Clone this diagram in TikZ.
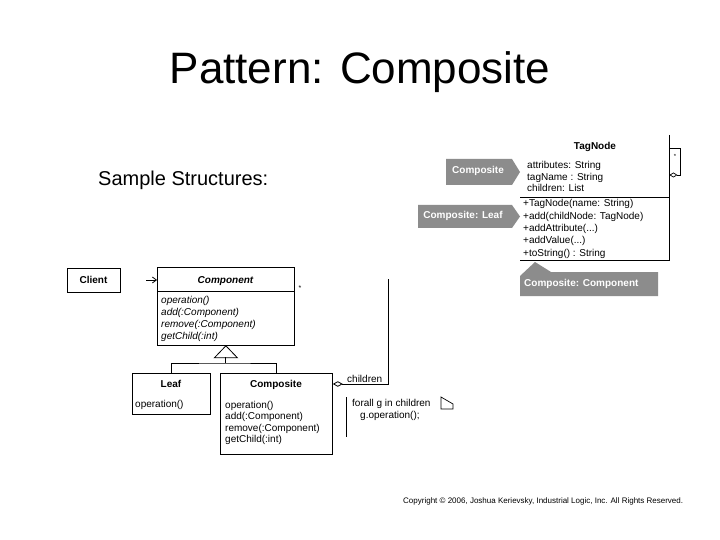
\documentclass[tikz,border=0pt]{standalone}
\usepackage{fontspec}
\setmainfont{Liberation Sans}
\usetikzlibrary{arrows.meta}
\definecolor{callgray}{RGB}{140,140,140}
\tikzset{
  uml/.style={draw=black, line width=0.8pt},
  box/.style={uml, inner sep=0pt, anchor=north west},
  lbl/.style={anchor=base west, inner sep=0pt, font=\fontsize{10}{12}\selectfont},
  ttl/.style={anchor=base, inner sep=0pt, font=\fontsize{10}{12}\selectfont\bfseries},
  calltext/.style={inner sep=0pt, text=white, font=\fontsize{10}{12}\selectfont\bfseries},
  callout/.style={fill=callgray},
  opendiamond/.style={{Diamond[open,length=10pt,width=5.5pt,line width=0.8pt]}-}
}
\begin{document}
\begin{tikzpicture}[x=1pt,y=-1pt]
\useasboundingbox[fill=white] (0,0) rectangle (720,540);

% titles
\node[anchor=base, inner sep=0pt, font=\fontsize{44}{50}\selectfont] (title) at (360,84) {Pattern: Composite};
\node[anchor=base west, inner sep=0pt, font=\fontsize{20}{24}\selectfont] (sample) at (98,186) {Sample Structures:};

% ---------- left UML ----------
\node[box, minimum width=53pt, minimum height=24pt] (client) at (67,268) {};
\node[ttl] (clientt) at (93.5,283) {Client};

\node[box, minimum width=137pt, minimum height=78pt] (comp) at (157,267) {};
\draw[uml] (157,291) -- (294,291);
\node[ttl, font=\fontsize{10}{12}\selectfont\bfseries\itshape] (compt) at (225.5,283) {Component};
\node[lbl, font=\fontsize{10}{12}\selectfont\itshape] (cm1) at (161,303) {operation()};
\node[lbl, font=\fontsize{10}{12}\selectfont\itshape] (cm2) at (161,315) {add(:Component)};
\node[lbl, font=\fontsize{10}{12}\selectfont\itshape] (cm3) at (161,327) {remove(:Component)};
\node[lbl, font=\fontsize{10}{12}\selectfont\itshape] (cm4) at (161,339) {getChild(:int)};
\node[inner sep=0pt, font=\fontsize{7}{8}\selectfont] (star1) at (300,288) {*};

% client arrow head
\coordinate (arrstart) at (146,280);
\draw[uml, -{Straight Barb[length=4pt,width=6pt]}] (arrstart) -- (comp.west |- arrstart);

\node[box, minimum width=78pt, minimum height=41pt] (leaf) at (132,373) {};
\node[ttl] (leaft) at (171,387) {Leaf};
\node[lbl] (lm1) at (135,407) {operation()};

\node[box, minimum width=112pt, minimum height=81pt] (compo) at (220,373) {};
\node[ttl] (compot) at (276,387) {Composite};
\node[lbl] (pm1) at (225,408) {operation()};
\node[lbl] (pm2) at (225,419.5) {add(:Component)};
\node[lbl] (pm3) at (225,431) {remove(:Component)};
\node[lbl] (pm4) at (225,442.5) {getChild(:int)};

% inheritance
\draw[uml] (comp.south) -- ++(-11.5,12) -- ++(23,0) -- cycle;
\coordinate (tri) at (225.5,357);
\coordinate (junc) at (225.5,363);
\draw[uml] (tri) -- (junc);
\draw[uml] (leaf.north) |- (junc) -| (compo.north);

% children aggregation
\coordinate (chtop) at (388,279);
\coordinate (dia) at ([yshift=-11pt]compo.north east);
\draw[uml, opendiamond] (dia) -- (chtop |- dia) -- (chtop);
\node[lbl] (chl) at (347,382) {children};

% note
\draw[uml] (346,397) -- (346,437);
\node[lbl] (n1) at (352,406) {forall g in children};
\node[lbl] (n2) at (360,418) {g.operation();};
\draw[uml, line width=0.7pt] (441,397) -- (441,409) -- (453,409) -- (453,404) -- cycle;

% ---------- TagNode ----------
\node[inner sep=0pt, minimum width=149pt, minimum height=125pt, anchor=north west] (tag) at (520,135) {};
\draw[uml] (tag.north east) -- (tag.south east) -- (tag.south west);
\draw[uml] (520,197) -- (669,197);
\coordinate (selfa) at ([yshift=-40pt]tag.north east);
\draw[uml, {Diamond[open,length=8pt,width=5pt,line width=0.7pt]}-] (selfa) -- ++(11,0) -- ++(0,-27) -- ++(-11,0);
\node[inner sep=0pt, font=\fontsize{6}{7}\selectfont] (star2) at (675,156) {*};

\node[ttl] (tagt) at (595,150) {TagNode};
\node[lbl] (ta1) at (527,169) {attributes: String};
\node[lbl] (ta2) at (527,180.5) {tagName : String};
\node[lbl] (ta3) at (527,192) {children: List};
\node[lbl] (tm1) at (523,207) {+TagNode(name: String)};
\node[lbl] (tm2) at (523,219.25) {+add(childNode: TagNode)};
\node[lbl] (tm3) at (523,231.5) {+addAttribute(...)};
\node[lbl] (tm4) at (523,243.75) {+addValue(...)};
\node[lbl] (tm5) at (523,256) {+toString() : String};

% callouts
\fill[callout] (446,159) -- (512,159) -- (520,172) -- (512,185) -- (446,185) -- cycle;
\node[calltext] (c1) at (478,171) {Composite};
\fill[callout] (418,205) -- (512,205) -- (520,216.5) -- (512,228) -- (418,228) -- cycle;
\node[calltext] (c2) at (463,216) {Composite: Leaf};
\fill[callout] (520,296) -- (520,276) -- (535,262) -- (551,272) -- (658,272) -- (658,296) -- cycle;
\node[calltext, anchor=west] (c3) at (524,284) {Composite: Component};

% copyright
\node[anchor=base west, inner sep=0pt, font=\fontsize{8}{9}\selectfont] (copy) at (403,503) {Copyright © 2006, Joshua Kerievsky, Industrial Logic, Inc. All Rights Reserved.};
\end{tikzpicture}
\end{document}
